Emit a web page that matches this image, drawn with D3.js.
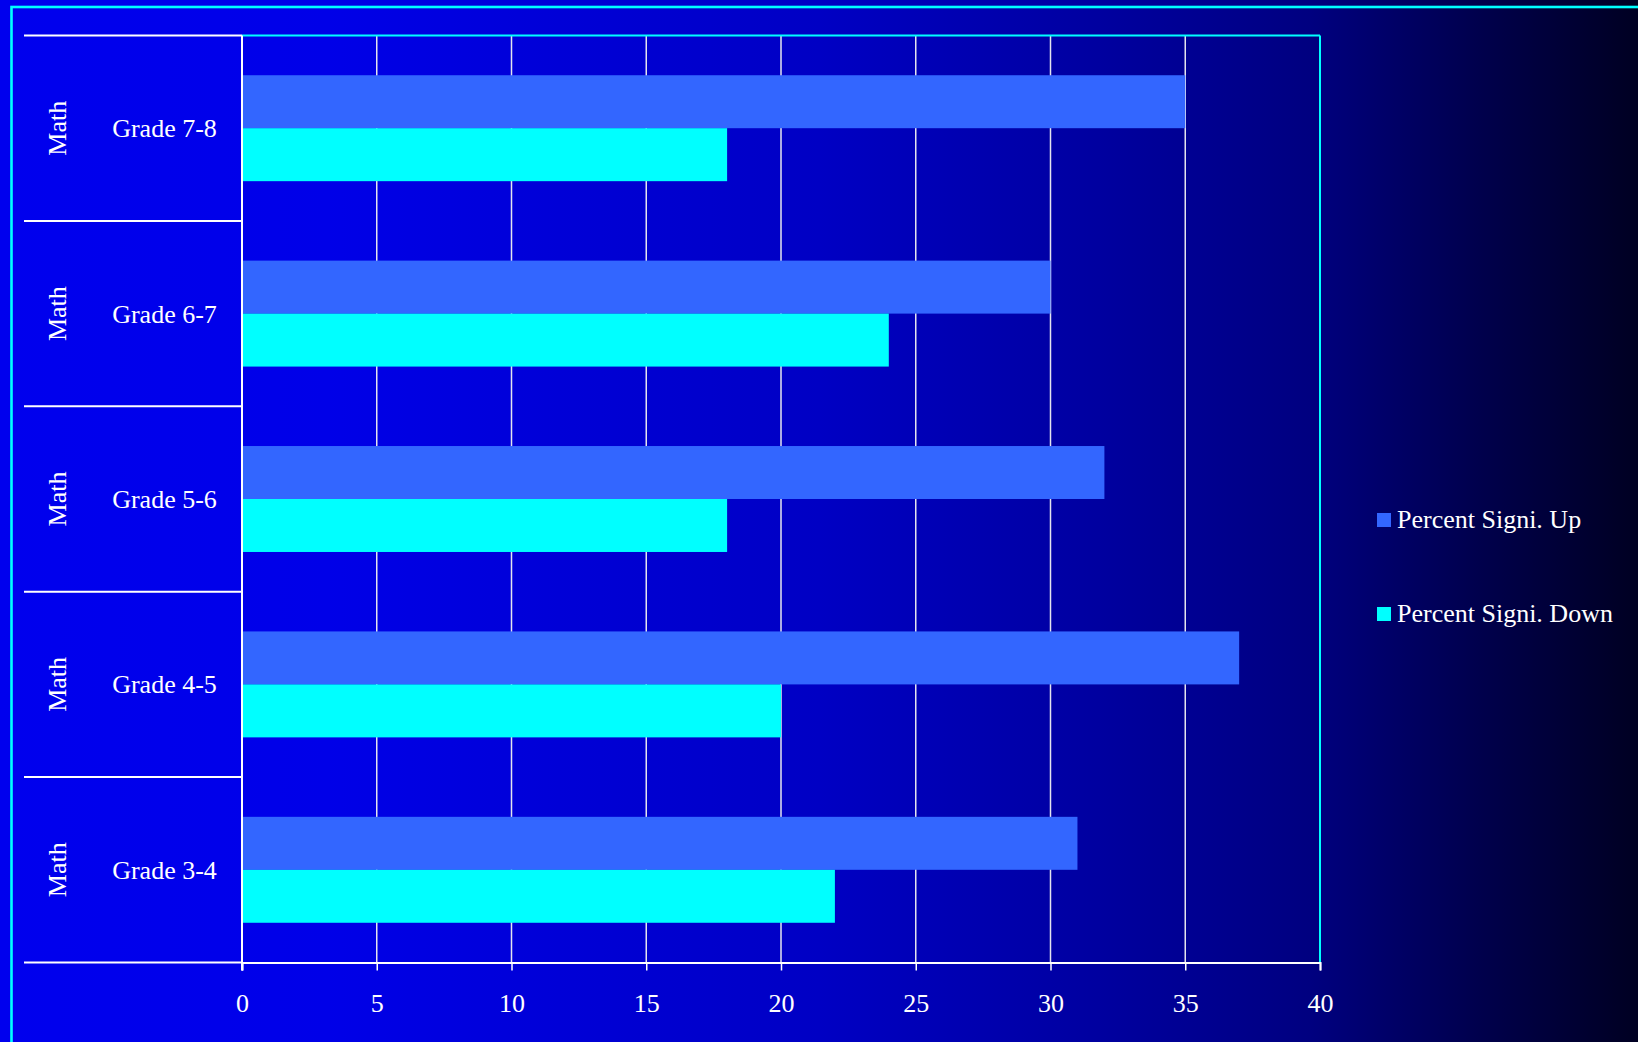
<!DOCTYPE html>
<html>
<head>
<meta charset="utf-8">
<script src="https://cdn.jsdelivr.net/npm/d3@7/dist/d3.min.js"></script>
<style>
  html, body { margin: 0; padding: 0; background: #000; overflow: hidden; }
  svg { display: block; }
</style>
</head>
<body>
<svg id="chart" width="1638" height="1042"></svg>
<script>
// ---- data (bottom-to-top category order, as in the source chart) ----
const categories = ["Grade 3-4", "Grade 4-5", "Grade 5-6", "Grade 6-7", "Grade 7-8"];
const groupLabel = "Math";
const seriesNames = ["Percent Signi. Up", "Percent Signi. Down"];
const upValues   = [31, 37, 32, 30, 35];
const downValues = [22, 20, 18, 24, 18];
const xTicks = [0, 5, 10, 15, 20, 25, 30, 35, 40];

const W = 1638, H = 1042;
const svg = d3.select("#chart");
const FONT = "'Liberation Serif', 'Times New Roman', serif";

// background gradient
const defs = svg.append("defs");
const grad = defs.append("linearGradient").attr("id", "bg").attr("x1", "0").attr("x2", "1").attr("y1", "0").attr("y2", "0");
[[0, "#0000EE"], [0.2, "#0000E8"], [0.5, "#0000C4"], [0.67, "#0000A0"], [0.8, "#000080"], [0.9, "#00004E"], [1, "#000022"]]
  .forEach(([o, c]) => grad.append("stop").attr("offset", o).attr("stop-color", c));
svg.append("rect").attr("width", W).attr("height", H).attr("fill", "url(#bg)");

// outer cyan frame (runs past the right and bottom edge)
svg.append("rect").attr("x", 11.5).attr("y", 7).attr("width", W + 20).attr("height", H + 20)
  .attr("fill", "none").attr("stroke", "#00FFFF").attr("stroke-width", 2.6);

// plot geometry
const L = 242, R = 1320, T = 35.5, B = 962.5;
const x = d3.scaleLinear().domain([0, 40]).range([L, R]);
const y = d3.scaleBand().domain(categories).range([B, T]).padding(0);
const inner = d3.scaleBand().domain(seriesNames).range([0, y.bandwidth()]).paddingInner(0).paddingOuter(0.75);

const series = [
  { name: seriesNames[0], values: upValues, color: "#3366FF" },
  { name: seriesNames[1], values: downValues, color: "#00FFFF" }
];

// gridlines
svg.append("g").selectAll("line").data(xTicks.filter(t => t > 0 && t < 40)).join("line")
  .attr("x1", d => x(d)).attr("x2", d => x(d)).attr("y1", T).attr("y2", B)
  .attr("stroke", "#E4E4EE").attr("stroke-width", 1.5);

// bars
series.forEach(s => {
  svg.append("g").selectAll("rect").data(categories).join("rect")
    .attr("x", x(0))
    .attr("y", c => y(c) + inner(s.name))
    .attr("width", (c, i) => x(s.values[i]) - x(0))
    .attr("height", inner.bandwidth())
    .attr("fill", s.color);
});

// plot border: cyan top & right
svg.append("line").attr("x1", L).attr("x2", R).attr("y1", T).attr("y2", T).attr("stroke", "#00FFFF").attr("stroke-width", 2);
svg.append("line").attr("x1", R).attr("x2", R).attr("y1", T).attr("y2", B).attr("stroke", "#00FFFF").attr("stroke-width", 2);

// x axis
const xAxis = d3.axisBottom(x).tickValues(xTicks).tickSize(8).tickPadding(23).tickFormat(d3.format("d"));
const gx = svg.append("g").attr("transform", `translate(0,${B})`).call(xAxis);
gx.select(".domain").attr("stroke", "#FFFFFF").attr("stroke-width", 2);
gx.selectAll(".tick line").attr("stroke", "#FFFFFF").attr("stroke-width", 1.5);
gx.selectAll(".tick text").attr("fill", "#FFFFFF").attr("font-family", FONT).attr("font-size", 26).attr("dy", "0.71em");

// left value-axis line
svg.append("line").attr("x1", L).attr("x2", L).attr("y1", T).attr("y2", B + 8).attr("stroke", "#FFFFFF").attr("stroke-width", 2);

// category divider lines (multi-level category axis)
const bounds = categories.map(c => y(c)).concat([B]);
svg.append("g").selectAll("line").data(bounds).join("line")
  .attr("x1", 24).attr("x2", L).attr("y1", d => d).attr("y2", d => d)
  .attr("stroke", "#FFFFFF").attr("stroke-width", 2);

// category labels
svg.append("g").selectAll("text").data(categories).join("text")
  .attr("x", 164.5).attr("y", c => y(c) + y.bandwidth() / 2 + 9)
  .attr("text-anchor", "middle").attr("fill", "#FFFFFF")
  .attr("font-family", FONT).attr("font-size", 26).text(c => c);

svg.append("g").selectAll("text").data(categories).join("text")
  .attr("transform", c => `translate(65.5,${y(c) + y.bandwidth() / 2}) rotate(-90)`)
  .attr("text-anchor", "middle").attr("fill", "#FFFFFF")
  .attr("font-family", FONT).attr("font-size", 26).text(groupLabel);

// legend
const legendY = [513, 607];
const lg = svg.append("g");
series.forEach((s, i) => {
  lg.append("rect").attr("x", 1377).attr("y", legendY[i]).attr("width", 14).attr("height", 14).attr("fill", s.color);
  lg.append("text").attr("x", 1397).attr("y", legendY[i] + 15)
    .attr("fill", "#FFFFFF").attr("font-family", FONT).attr("font-size", 26).text(s.name);
});
</script>
</body>
</html>
